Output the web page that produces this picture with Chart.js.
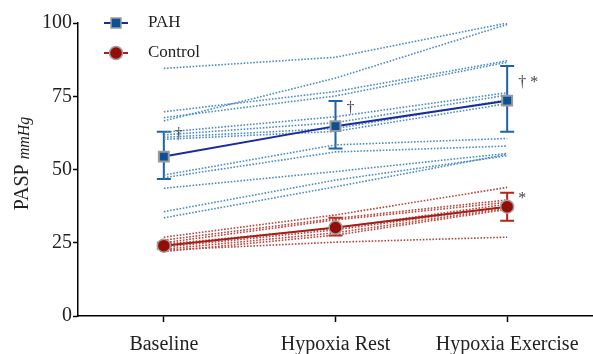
<!DOCTYPE html>
<html><head><meta charset="utf-8">
<script src="https://cdn.jsdelivr.net/npm/chart.js@4.4.0/dist/chart.umd.min.js"></script>
<style>html,body{margin:0;padding:0;background:#fff}#wrap{width:593px;height:354px}</style>
</head><body><div id="wrap"><canvas id="c" width="593" height="354"></canvas></div>
<script>
const categories = ['Baseline', 'Hypoxia Rest', 'Hypoxia Exercise'];
const yTicks = [0, 25, 50, 75, 100];
const seriesNames = ['PAH', 'Control'];

const pahMean = [54.4, 64.8, 73.5];
const pahLow  = [46.8, 57.2, 62.9];
const pahHigh = [62.9, 73.4, 85.3];

const ctrlMean = [24.0, 30.2, 37.3];
const ctrlLow  = [23.0, 27.5, 32.5];
const ctrlHigh = [25.0, 33.5, 42.1];

const pahSubjects = [
  [84.5, 88.3, 100.0],
  [66.6, 81.2, 99.5],
  [69.7, 76.6, 87.1],
  [67.7, 75.1, 86.6],
  [62.7, 68.0, 76.2],
  [61.8, 66.0, 75.4],
  [61.0, 64.0, 73.8],
  [60.3, 63.0, 72.5],
  [48.1, 58.4, 60.6],
  [47.2, 56.0, 58.0],
  [43.6, 49.3, 55.5],
  [35.6, 46.4, 54.7],
  [33.5, 44.1, 55.2]
];
const ctrlSubjects = [
  [26.9, 34.5, 43.9],
  [25.9, 33.3, 39.6],
  [25.0, 32.8, 38.8],
  [24.5, 30.0, 38.2],
  [23.5, 29.4, 37.3],
  [22.8, 28.4, 36.8],
  [22.0, 27.6, 36.4],
  [22.5, 25.2, 26.9]
];

const pahMarks = ['\u2020', '\u2020', '\u2020 *'];
const ctrlMarks = ['', '', '*'];

const SERIF = '"Liberation Serif", "DejaVu Serif", serif';
const PAH_LINE = '#1b2a9c', PAH_FILL = '#0b5196', PAH_ERR = '#1f63a6', PAH_DOT = '#4b8cc6';
const CT_LINE = '#a3201a', CT_FILL = '#960c06', CT_ERR = '#b3261e', CT_DOT = '#b8443c';

const datasets = [];
datasets.push({
  label: 'PAH', data: pahMean, borderColor: PAH_LINE, borderWidth: 2,
  pointStyle: 'rect', pointRadius: 7, pointBackgroundColor: PAH_FILL,
  pointBorderColor: '#9a9a9a', pointBorderWidth: 2, order: 0, tension: 0
});
datasets.push({
  label: 'Control', data: ctrlMean, borderColor: CT_LINE, borderWidth: 2,
  pointStyle: 'circle', pointRadius: 6.5, pointBackgroundColor: CT_FILL,
  pointBorderColor: '#a0a0a0', pointBorderWidth: 1.5, order: 0, tension: 0
});
pahSubjects.forEach((s, i) => datasets.push({
  label: 'pah' + i, data: s, borderColor: PAH_DOT, borderWidth: 1.6,
  borderDash: [1.6, 1.6], pointRadius: 0, order: 2, tension: 0
}));
ctrlSubjects.forEach((s, i) => datasets.push({
  label: 'ctrl' + i, data: s, borderColor: CT_DOT, borderWidth: 1.6,
  borderDash: [1.6, 1.6], pointRadius: 0, order: 2, tension: 0
}));

const errorBars = {
  id: 'errorBars',
  beforeDatasetsDraw(chart) {
    const ctx = chart.ctx, xs = chart.scales.x, ys = chart.scales.y;
    const draw = (lo, hi, color) => {
      ctx.save(); ctx.strokeStyle = color; ctx.lineWidth = 2;
      categories.forEach((c, i) => {
        const x = xs.getPixelForValue(i);
        const y1 = ys.getPixelForValue(lo[i]), y2 = ys.getPixelForValue(hi[i]);
        ctx.beginPath();
        ctx.moveTo(x, y1); ctx.lineTo(x, y2);
        ctx.moveTo(x - 7, y1); ctx.lineTo(x + 7, y1);
        ctx.moveTo(x - 7, y2); ctx.lineTo(x + 7, y2);
        ctx.stroke();
      });
      ctx.restore();
    };
    draw(pahLow, pahHigh, PAH_ERR);
    draw(ctrlLow, ctrlHigh, CT_ERR);
  },
  afterDatasetsDraw(chart) {
    const ctx = chart.ctx, xs = chart.scales.x, ys = chart.scales.y;
    ctx.save();
    ctx.fillStyle = '#444';
    ctx.font = '16px ' + SERIF;
    ctx.textAlign = 'left'; ctx.textBaseline = 'middle';
    const pahOff = [-22, -17, -18];
    categories.forEach((c, i) => {
      const x = xs.getPixelForValue(i) + 11;
      if (pahMarks[i]) ctx.fillText(pahMarks[i], x, ys.getPixelForValue(pahMean[i]) + pahOff[i]);
      if (ctrlMarks[i]) ctx.fillText(ctrlMarks[i], x, ys.getPixelForValue(ctrlMean[i]) - 8);
    });
    ctx.restore();
  },
  afterDraw(chart) {
    const ctx = chart.ctx, ys = chart.scales.y;
    ctx.save();
    const items = [
      {name: seriesNames[0], line: PAH_LINE, fill: PAH_FILL, border: '#9a9a9a', style: 'rect', r: 7, y: 23},
      {name: seriesNames[1], line: CT_LINE, fill: CT_FILL, border: '#a0a0a0', style: 'circle', r: 6.5, y: 53}
    ];
    items.forEach(it => {
      ctx.strokeStyle = it.line; ctx.lineWidth = 2;
      ctx.beginPath(); ctx.moveTo(104, it.y); ctx.lineTo(128, it.y); ctx.stroke();
      ctx.fillStyle = it.fill; ctx.strokeStyle = it.border; ctx.lineWidth = 1.5;
      Chart.helpers.drawPoint(ctx, {pointStyle: it.style, radius: it.r, borderWidth: 1.5}, 116, it.y);
      ctx.fillStyle = '#222'; ctx.font = '17px ' + SERIF;
      ctx.textAlign = 'left'; ctx.textBaseline = 'middle';
      ctx.fillText(it.name, 148, it.y);
    });
    const cy = (ys.top + ys.bottom) / 2;
    ctx.translate(23, cy);
    ctx.rotate(-Math.PI / 2);
    ctx.fillStyle = '#222';
    ctx.textBaseline = 'middle';
    const t1 = 'PASP ';
    ctx.font = 'italic 16px ' + SERIF;
    const w2 = ctx.measureText('mmHg').width;
    ctx.font = '20px ' + SERIF;
    const w1 = ctx.measureText(t1).width;
    const start = -(w1 + w2) / 2 + 6;
    ctx.textAlign = 'left';
    ctx.fillText(t1, start, 0);
    ctx.font = 'italic 16px ' + SERIF;
    ctx.fillText('mmHg', start + w1, 2);
    ctx.restore();
  }
};

new Chart(document.getElementById('c'), {
  type: 'line',
  data: { labels: categories, datasets },
  options: {
    responsive: false, animation: false, devicePixelRatio: 1,
    layout: { autoPadding: false, padding: { top: 23, right: 0, left: 0, bottom: 0 } },
    plugins: { legend: { display: false }, tooltip: { enabled: false } },
    scales: {
      x: {
        type: 'category', offset: true,
        grid: { display: true, drawOnChartArea: false, offset: false, tickLength: 6, tickColor: '#000', tickWidth: 1.5 },
        border: { color: '#000', width: 1.5 },
        ticks: { color: '#222', font: { family: SERIF, size: 20 }, padding: 11, maxRotation: 0 },
        afterFit(s) { s.height = 38; s.paddingRight = 0; s.paddingLeft = 0; }
      },
      y: {
        min: 0, max: 100,
        afterBuildTicks(s) { s.ticks = yTicks.map(v => ({ value: v })); },
        grid: { display: true, drawOnChartArea: false, tickLength: 5, tickColor: '#000', tickWidth: 1.5 },
        border: { color: '#000', width: 1.5 },
        ticks: { color: '#222', font: { family: SERIF, size: 20 }, padding: 1 },
        afterFit(s) { s.width = 78; s.paddingTop = 0; s.paddingBottom = 0; }
      }
    }
  },
  plugins: [errorBars]
});
</script>
</body></html>
